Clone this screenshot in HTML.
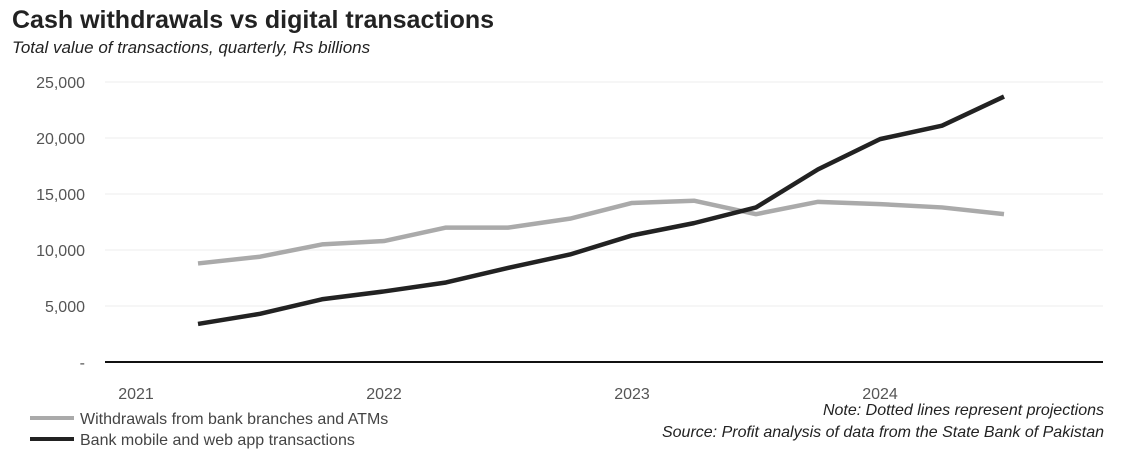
<!DOCTYPE html>
<html><head><meta charset="utf-8"><style>
body{margin:0;width:1126px;height:467px;background:#fff;font-family:"Liberation Sans",sans-serif;overflow:hidden}
</style></head><body>
<svg id="chart" width="1126" height="467">
<text x="12" y="28" font-size="25" font-weight="bold" fill="#222">Cash withdrawals vs digital transactions</text>
<text x="12" y="53" font-size="17" font-style="italic" fill="#222">Total value of transactions, quarterly, Rs billions</text>
<g id="grid"></g><g id="yt"></g><g id="xt"></g><g id="lines"></g>
<line x1="105" y1="362" x2="1103" y2="362" stroke="#111" stroke-width="2"/>
<line x1="30" y1="418" x2="74" y2="418" stroke="#aaa" stroke-width="4"/>
<text x="80" y="424" font-size="16" fill="#444">Withdrawals from bank branches and ATMs</text>
<line x1="30" y1="439" x2="74" y2="439" stroke="#222" stroke-width="4"/>
<text x="80" y="445" font-size="16" fill="#444">Bank mobile and web app transactions</text>
<text x="1104" y="415" font-size="16" font-style="italic" fill="#222" text-anchor="end">Note: Dotted lines represent projections</text>
<text x="1104" y="437" font-size="16" font-style="italic" fill="#222" text-anchor="end">Source: Profit analysis of data from the State Bank of Pakistan</text>
</svg>
<script>
const quarters=["2021Q2","2021Q3","2021Q4","2022Q1","2022Q2","2022Q3","2022Q4","2023Q1","2023Q2","2023Q3","2023Q4","2024Q1","2024Q2","2024Q3"];
const withdrawals=[8800,9400,10500,10800,12000,12000,12800,14200,14400,13200,14300,14100,13800,13200];
const digital=[3400,4300,5600,6300,7100,8400,9600,11300,12400,13800,17200,19900,21100,23700];
const yTicks=[0,5000,10000,15000,20000,25000];
const yTickLabels=["-","5,000","10,000","15,000","20,000","25,000"];
const xYears=["2021","2022","2023","2024"];
const NS="http://www.w3.org/2000/svg";
const y=v=>362-v*0.0112;
const x=i=>198+i*62; // quarter index from 2021Q2
const xYear=k=>x(k*4-1);
function mk(t,a,p){const e=document.createElementNS(NS,t);for(const k in a)e.setAttribute(k,a[k]);document.getElementById(p).appendChild(e);return e;}
yTicks.forEach((v,i)=>{
  if(v>0){const g=mk("line",{x1:105,x2:1103,y1:y(v),y2:y(v),stroke:"#ececec","stroke-width":1},"grid");
  
  }
  const t=mk("text",{x:85,y:y(v)+6,"font-size":16,fill:"#555","text-anchor":"end"},"yt");
  t.textContent=yTickLabels[i];
  
  
});
xYears.forEach((s,k)=>{
  const t=mk("text",{x:xYear(k),y:399,"font-size":16,fill:"#555","text-anchor":"middle"},"xt");
  t.textContent=s;
  
  
});
function line(d,c,n){
  const p=mk("polyline",{points:d.map((v,i)=>x(i)+","+y(v)).join(" "),fill:"none",stroke:c,"stroke-width":4.5,"stroke-linejoin":"round"},"lines");
  
  
}
line(withdrawals,"#aaa","withdrawals-line");
line(digital,"#222","digital-line");
</script>
</body></html>
